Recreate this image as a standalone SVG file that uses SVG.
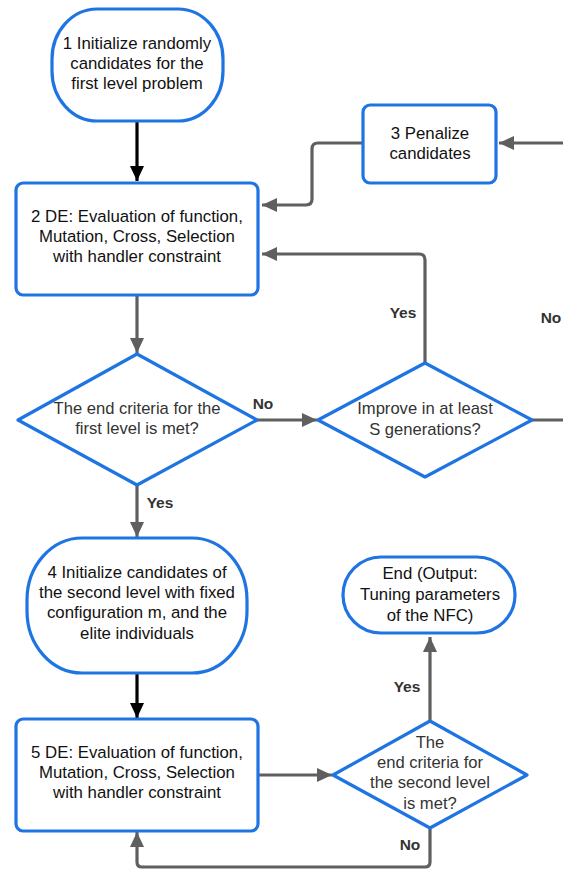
<svg xmlns="http://www.w3.org/2000/svg" width="563" height="870" viewBox="0 0 563 870">
<defs>
<style>
.n{fill:#fff;stroke:#1f74e3;stroke-width:3.2}
.t{font-family:"Liberation Sans",Arial,sans-serif;font-size:16.8px;fill:#111;text-anchor:middle}
.dt{font-family:"Liberation Sans",Arial,sans-serif;font-size:16.6px;fill:#333;text-anchor:middle}
.l{font-family:"Liberation Sans",Arial,sans-serif;font-size:15.5px;font-weight:bold;fill:#333;text-anchor:middle}
.g{fill:none;stroke:#5f5f5f;stroke-width:3.2;stroke-linejoin:round}
.b{fill:none;stroke:#000;stroke-width:3.2}
</style>
<marker id="ag" markerUnits="userSpaceOnUse" markerWidth="16" markerHeight="14" refX="15" refY="7" orient="auto"><path d="M0,0 L15,7 L0,14 Z" fill="#5f5f5f"/></marker>
<marker id="ab" markerUnits="userSpaceOnUse" markerWidth="16" markerHeight="14" refX="15" refY="7" orient="auto"><path d="M0,0 L15,7 L0,14 Z" fill="#000"/></marker>
</defs>
<g id="connectors">
<path class="b" d="M137,121 V181" marker-end="url(#ab)"/>
<path class="g" d="M137,295 V353" marker-end="url(#ag)"/>
<path class="g" d="M363,143 H318 Q312,143 312,149 V199 Q312,205 306,205 H262" marker-end="url(#ag)"/>
<path class="g" d="M425,362 V260 Q425,254 419,254 H262" marker-end="url(#ag)"/>
<path class="g" d="M532,420 H590 V143 H499" marker-end="url(#ag)"/>
<path class="g" d="M257,420 H317" marker-end="url(#ag)"/>
<path class="g" d="M137,485 V537" marker-end="url(#ag)"/>
<path class="b" d="M137,673 V718" marker-end="url(#ab)"/>
<path class="g" d="M258,775 H332" marker-end="url(#ag)"/>
<path class="g" d="M430,721 V637" marker-end="url(#ag)"/>
<path class="g" d="M430,828 V862 Q430,867 425,867 H142 Q137,867 137,862 V832" marker-end="url(#ag)"/>
</g>
<g id="node1">
<rect class="n" x="52" y="9" width="171" height="112" rx="45" ry="50"/>
<text class="t" x="137" y="49">1 Initialize randomly</text>
<text class="t" x="137" y="69">candidates for the</text>
<text class="t" x="137" y="89">first level problem</text>
</g>
<g id="node2">
<rect class="n" x="16" y="183" width="242" height="112" rx="7"/>
<text class="t" x="137" y="222">2 DE: Evaluation of function,</text>
<text class="t" x="137" y="242">Mutation, Cross, Selection</text>
<text class="t" x="137" y="262">with handler constraint</text>
</g>
<g id="node3">
<rect class="n" x="363" y="105" width="133" height="78" rx="7"/>
<text class="t" x="430" y="139">3 Penalize</text>
<text class="t" x="430" y="159">candidates</text>
</g>
<g id="decision1">
<path class="n" d="M137,354 L257,420 L137,485 L18,420 Z" stroke-linejoin="round"/>
<text class="dt" x="137" y="414">The end criteria for the</text>
<text class="dt" x="137" y="434">first level is met?</text>
</g>
<g id="decision2">
<path class="n" d="M425,363 L532,420 L425,477 L318,420 Z" stroke-linejoin="round"/>
<text class="dt" x="425" y="414">Improve in at least</text>
<text class="dt" x="425" y="435">S generations?</text>
</g>
<g id="node4">
<rect class="n" x="27" y="538" width="220" height="135" rx="55" ry="62"/>
<text class="t" x="137" y="578">4 Initialize candidates of</text>
<text class="t" x="137" y="598">the second level with fixed</text>
<text class="t" x="137" y="618">configuration m, and the</text>
<text class="t" x="137" y="639">elite individuals</text>
</g>
<g id="node5">
<rect class="n" x="16" y="719" width="242" height="112" rx="7"/>
<text class="t" x="137" y="758">5 DE: Evaluation of function,</text>
<text class="t" x="137" y="778">Mutation, Cross, Selection</text>
<text class="t" x="137" y="798">with handler constraint</text>
</g>
<g id="decision3">
<path class="n" d="M430,721 L527,775 L430,828 L333,775 Z" stroke-linejoin="round"/>
<text class="dt" x="430" y="748">The</text>
<text class="dt" x="430" y="768">end criteria for</text>
<text class="dt" x="430" y="788">the second level</text>
<text class="dt" x="430" y="809">is met?</text>
</g>
<g id="end">
<rect class="n" x="343" y="557" width="172" height="76" rx="38"/>
<text class="t" x="430" y="579">End (Output:</text>
<text class="t" x="430" y="600">Tuning parameters</text>
<text class="t" x="430" y="621">of the NFC)</text>
</g>
<g id="labels">
<text class="l" x="263" y="409">No</text>
<text class="l" x="403" y="318">Yes</text>
<text class="l" x="551" y="323">No</text>
<text class="l" x="160" y="508">Yes</text>
<text class="l" x="407" y="692">Yes</text>
<text class="l" x="410" y="850">No</text>
</g>
</svg>
